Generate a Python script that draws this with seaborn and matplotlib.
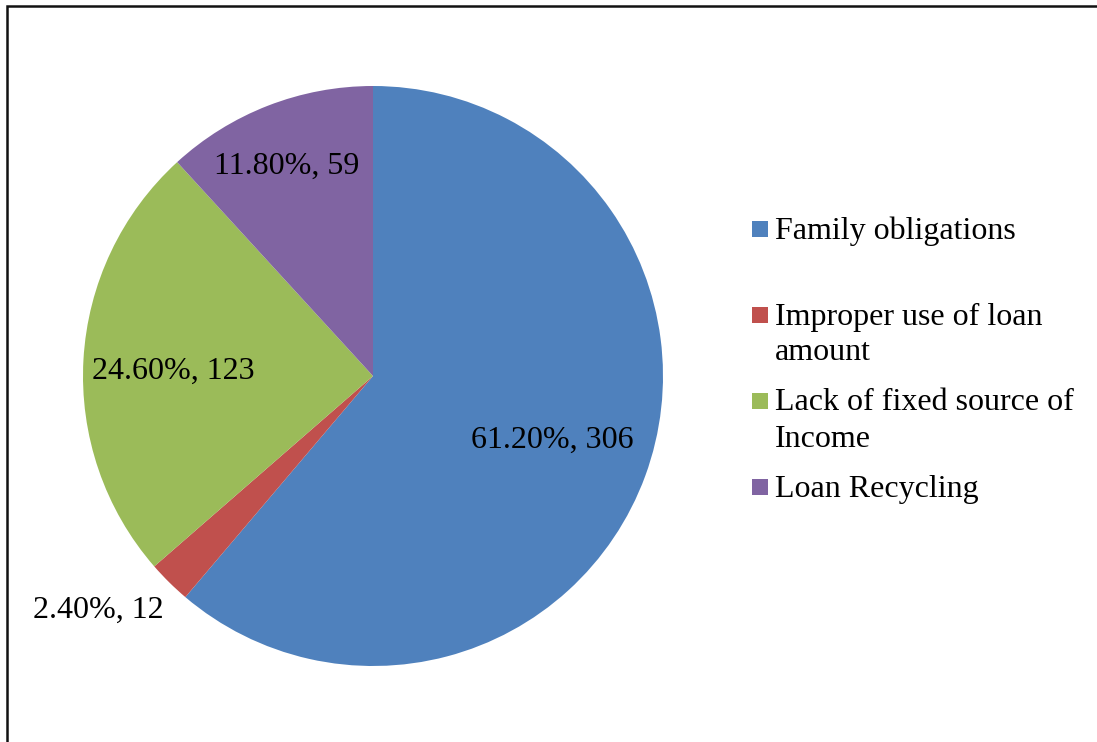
import textwrap
import numpy as np
import matplotlib
matplotlib.use("Agg")
import matplotlib.pyplot as plt
from matplotlib.patches import Rectangle
import seaborn as sns

# Reasons reported, with respondent counts and their shares
categories = ["Family obligations", "Improper use of loan amount",
              "Lack of fixed source of Income", "Loan Recycling"]
counts = [306, 12, 123, 59]
percents = [61.20, 2.40, 24.60, 11.80]
colors = ["#4F81BD", "#C0504D", "#9BBB59", "#8064A2"]

sns.set_theme(style="white")
plt.rcParams["font.family"] = ["Liberation Serif", "DejaVu Serif"]

W, H = 1097, 742
fig = plt.figure(figsize=(W / 100, H / 100), dpi=100)
fig.patch.set_facecolor("white")

# pie axes: centre (373, 376) px, radius 290 px
cx, cy, r = 373, 376, 290
ax = fig.add_axes([(cx - r) / W, (H - cy - r) / H, 2 * r / W, 2 * r / H])
palette = sns.color_palette(colors)
wedges, _ = ax.pie(counts, colors=palette, startangle=90, counterclock=False,
                   radius=1.0, wedgeprops=dict(linewidth=0))
ax.set_xlim(-1, 1)
ax.set_ylim(-1, 1)
ax.set_aspect("equal")
ax.axis("off")

FS = 23
# data labels: radial distance and angular nudge for each slice
label_dist = [0.655, 1.24, 0.69, 0.79]
label_shift = [1.0, -5.2, 1.2, 0.8]
for w, p, n, d, s in zip(wedges, percents, counts, label_dist, label_shift):
    ang = np.deg2rad((w.theta1 + w.theta2) / 2 + s)
    ax.text(d * np.cos(ang), d * np.sin(ang) - 0.008, f"{p:.2f}%, {n}",
            ha="center", va="center", fontsize=FS, color="black", clip_on=False)

# legend drawn in pixel space
legend_rows = [231, 317, 403, 489]
line_gap = 36
sq = 16
for cat, col, y0 in zip(categories, palette, legend_rows):
    fig.add_artist(Rectangle((752 / W, 1 - (y0 - 2 + sq / 2) / H), sq / W, sq / H,
                             transform=fig.transFigure, facecolor=col,
                             edgecolor="none"))
    for i, line in enumerate(textwrap.wrap(cat, width=23)):
        fig.text(775 / W, 1 - (y0 + i * line_gap) / H, line, ha="left",
                 va="center", fontsize=FS, color="black")

# outer frame
fig.add_artist(Rectangle((6.5 / W, -0.1), 1.2, 1 - 5.5 / H + 0.1,
                         transform=fig.transFigure, fill=False,
                         edgecolor="#111111", linewidth=1.8))

fig.savefig("out.png", dpi=100)
